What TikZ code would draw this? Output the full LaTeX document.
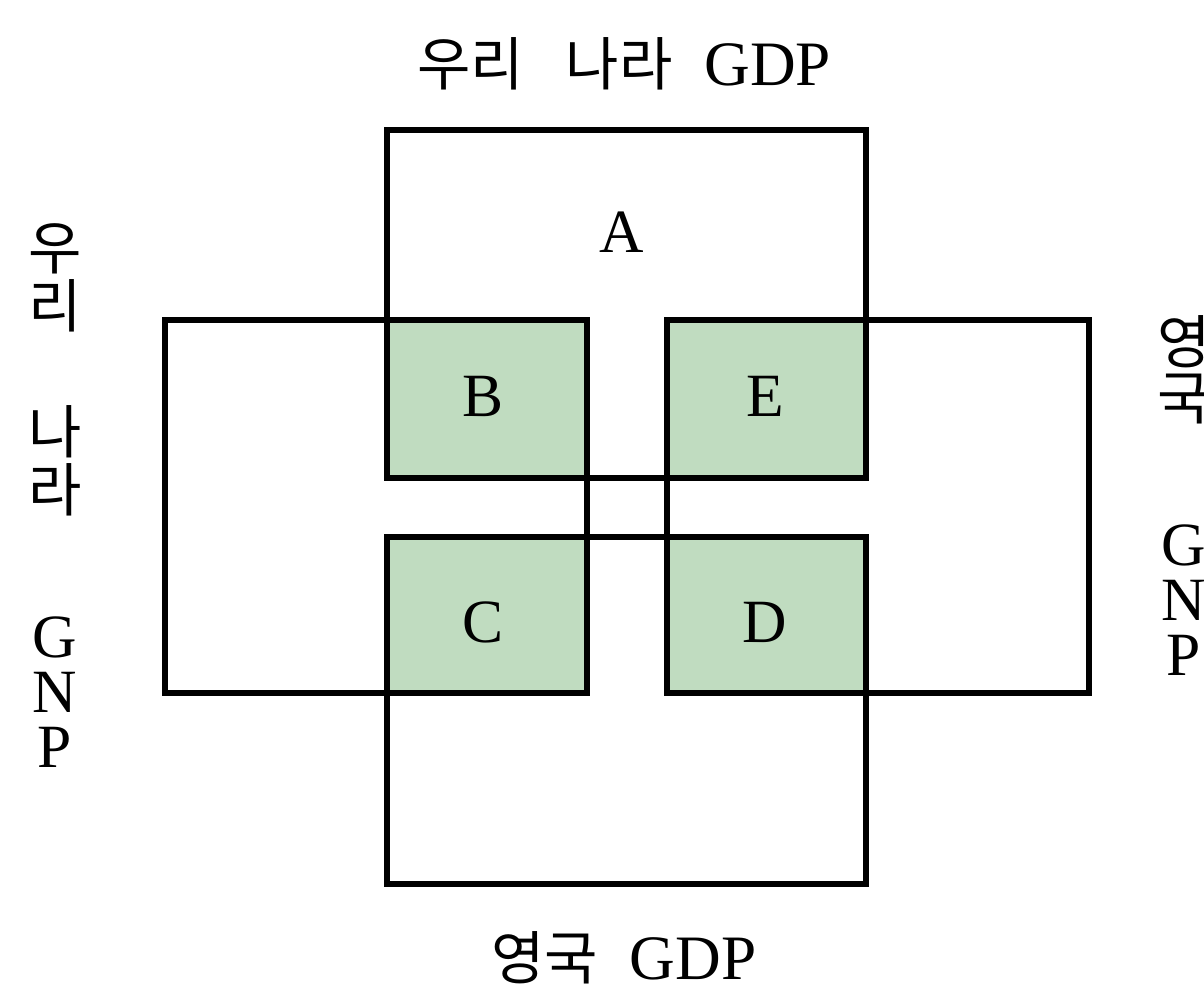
\documentclass[tikz,border=0pt]{standalone}
\usepackage{fontspec}
\setmainfont{Liberation Serif}
\newfontfamily\kr{Noto Sans CJK KR}
\definecolor{cellgreen}{RGB}{192,220,192}

\begin{document}
\begin{tikzpicture}[x=0.2mm,y=-0.2mm,
  box/.style={line width=3.4pt,line join=miter},
  cell/.style={fill=cellgreen},
  lbl/.style={font=\fontsize{36}{40}\selectfont,inner sep=0pt},
  letter/.style={font=\fontsize{35}{40}\selectfont,inner sep=0pt,
    text height=23pt,text depth=0pt},
  klbl/.style={font=\kr\fontsize{33}{36}\selectfont,inner sep=0pt,
    text height=26pt,text depth=2pt}]
\useasboundingbox (0,0) rectangle (1204,991);

% shaded overlaps
\fill[cell] (387,320) rectangle (587,478);
\fill[cell] (667,320) rectangle (866,478);
\fill[cell] (387,537) rectangle (587,693);
\fill[cell] (667,537) rectangle (866,693);

% GDP boxes
\draw[box] (387,130) rectangle (866,478);
\draw[box] (387,537) rectangle (866,884);
% GNP boxes
\draw[box] (165,320) rectangle (587,693);
\draw[box] (667,320) rectangle (1089,693);

\node[letter] (A) at (622,232) {A};
\node[letter] (B) at (483,396) {B};
\node[letter] (E) at (765,396) {E};
\node[letter] (C) at (483,622) {C};
\node[letter] (D) at (765,622) {D};

\node[lbl] (topgdp) at (624,64)
  {{\kr\fontsize{33}{36}\selectfont 우리\hspace{24pt}나라}\hspace{18pt}GDP};
\node[lbl] (botgdp) at (624,958)
  {{\kr\fontsize{33}{36}\selectfont 영국}\hspace{18pt}GDP};

% left column
\foreach \ch/\yy [count=\i] in {우/248,리/306,나/432,라/490}
  \node[klbl] (lk\i) at (55,\yy) {\ch};
\foreach \ch/\yy [count=\i] in {G/637,N/692,P/747}
  \node[letter] (lg\i) at (55,\yy) {\ch};
% right column
\foreach \ch/\yy [count=\i] in {영/342,국/398}
  \node[klbl] (rk\i) at (1184,\yy) {\ch};
\foreach \ch/\yy [count=\i] in {G/545,N/600,P/655}
  \node[letter] (rg\i) at (1184,\yy) {\ch};

\end{tikzpicture}
\end{document}
